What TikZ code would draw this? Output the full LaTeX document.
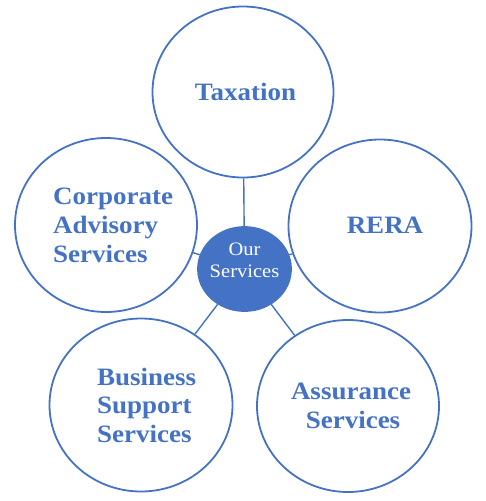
\documentclass[tikz,border=0pt]{standalone}
\usepackage{fontspec}
\setmainfont{Liberation Serif}
\newfontfamily\widefont[FakeStretch=1.08]{Liberation Serif}
\usetikzlibrary{shapes.geometric}
\definecolor{ob}{HTML}{4472C4}
\begin{document}
\begin{tikzpicture}[x=1pt,y=-1pt,
  ring/.style={draw=ob,line width=1.8pt,ellipse,inner sep=0pt,fill=white},
  hub/.style={draw=ob,fill=ob,line width=1.8pt,ellipse,inner sep=0pt},
  link/.style={draw=ob,line width=1.4pt},
  txt/.style={text=ob,font=\widefont\fontsize{25}{28}\selectfont\bfseries,inner sep=0pt},
  ctxt/.style={text=white,font=\widefont\fontsize{19}{22}\selectfont,inner sep=0pt}]
\useasboundingbox (0,0) rectangle (486,501);
\node[ring,minimum width=181pt,minimum height=171pt] (tax) at (243,92) {};
\node[ring,minimum width=182pt,minimum height=174pt] (corp) at (106,225) {};
\node[ring,minimum width=183pt,minimum height=173pt] (rera) at (380,226) {};
\node[ring,minimum width=183pt,minimum height=173pt] (bus) at (141,405) {};
\node[ring,minimum width=182pt,minimum height=172pt] (ass) at (348,406) {};
\node[hub,minimum width=93pt,minimum height=84pt] (hub) at (244.5,269) {};
\foreach \n in {tax,corp,rera,bus,ass} \draw[link] (hub) -- (\n);
\node[txt,anchor=base] (t1) at (245.5,100) {Taxation};
\node[txt,anchor=base] (r1) at (385,233) {RERA};
\node[txt,anchor=base west] (c1) at (53,204) {Corporate};
\node[txt,anchor=base west] (c2) at (53,233) {Advisory};
\node[txt,anchor=base west] (c3) at (53,262) {Services};
\node[txt,anchor=base west] (b1) at (97,385) {Business};
\node[txt,anchor=base west] (b2) at (97,413) {Support};
\node[txt,anchor=base west] (b3) at (97,442) {Services};
\node[txt,anchor=base] (a1) at (351,399) {Assurance};
\node[txt,anchor=base] (a2) at (353,428) {Services};
\node[ctxt,anchor=base] (o1) at (244.5,255) {Our};
\node[ctxt,anchor=base] (o2) at (244.5,277) {Services};
\end{tikzpicture}
\end{document}
